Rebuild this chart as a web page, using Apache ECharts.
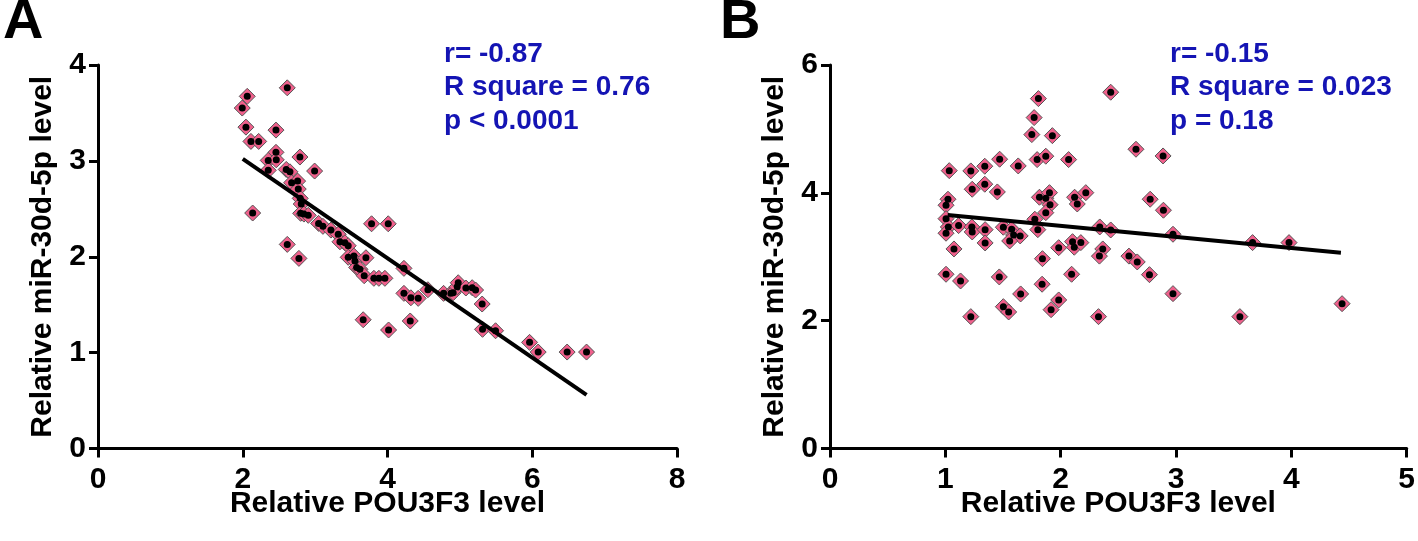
<!DOCTYPE html>
<html>
<head>
<meta charset="utf-8">
<script src="https://cdn.jsdelivr.net/npm/echarts@6/dist/echarts.min.js"></script>
<style>
html,body{margin:0;padding:0;background:#fff;}
#c{width:1418px;height:541px;}
</style>
</head>
<body>
<div id="c"></div>
<script>
// Panel A: Relative POU3F3 level (x) vs Relative miR-30d-5p level (y)
const pointsA = [
[2.615,3.762],[2.062,3.673],[1.993,3.551],[2.044,3.352],[2.459,3.321],[2.113,3.203],[2.220,3.203],
[2.459,3.089],[2.352,3.005],[2.463,3.011],[2.790,3.040],[2.352,2.901],[2.601,2.911],[2.652,2.886],
[2.993,2.894],[2.675,2.772],[2.758,2.789],[2.767,2.706],[2.794,2.609],[2.808,2.550],[2.137,2.456],
[2.800,2.453],[2.845,2.445],[2.905,2.432],[3.048,2.348],[3.108,2.317],[3.218,2.278],[3.319,2.234],
[3.343,2.156],[3.412,2.146],[3.457,2.115],[3.780,2.344],[4.010,2.344],[2.615,2.129],[3.457,1.994],
[3.536,2.007],[3.550,1.955],[3.573,1.889],[3.619,1.869],[3.678,1.802],[3.812,1.775],[3.881,1.775],
[3.964,1.775],[3.702,1.990],[2.776,1.983],[4.227,1.879],[4.227,1.618],[4.323,1.572],[4.424,1.566],
[4.558,1.656],[4.775,1.618],[4.876,1.618],[4.907,1.625],[4.963,1.687],[4.977,1.729],[5.083,1.674],
[5.170,1.677],[5.217,1.653],[5.308,1.507],[3.664,1.343],[4.015,1.236],[4.314,1.330],[5.313,1.243],
[5.493,1.228],[5.963,1.107],[6.082,1.006],[6.482,1.006],[6.750,1.006]
];
const fitA = [[2.0,3.02],[6.75,0.56]];
const statsA = ["r= -0.87", "R square = 0.76", "p < 0.0001"];

// Panel B
const pointsB = [
[2.434,5.574],[1.807,5.474],[1.770,5.177],[1.750,4.911],[1.928,4.895],[2.653,4.682],[2.888,4.577],
[1.034,4.347],[1.221,4.343],[1.342,4.416],[1.471,4.526],[1.632,4.421],[1.796,4.520],[1.871,4.573],
[2.069,4.520],[1.233,4.056],[1.342,4.135],[1.451,4.014],[1.023,3.900],[1.006,3.806],[1.816,3.931],
[1.871,3.915],[1.903,4.003],[1.908,3.815],[1.871,3.690],[2.121,3.931],[2.144,3.826],[2.218,4.003],
[2.776,3.900],[2.891,3.728],[1.006,3.596],[1.026,3.466],[1.006,3.368],[1.115,3.487],[1.230,3.466],
[1.233,3.388],[1.345,3.424],[1.345,3.216],[1.075,3.122],[1.503,3.462],[1.575,3.430],[1.592,3.341],
[1.649,3.326],[1.558,3.247],[1.776,3.587],[1.802,3.424],[2.339,3.466],[2.434,3.419],[1.983,3.142],
[2.103,3.236],[2.118,3.149],[2.175,3.221],[2.365,3.122],[2.336,3.010],[1.842,2.970],[2.592,3.010],
[2.664,2.919],[2.770,2.720],[1.006,2.726],[1.132,2.621],[1.468,2.684],[2.095,2.726],[1.839,2.570],
[1.653,2.418],[1.983,2.324],[1.917,2.172],[1.503,2.219],[1.549,2.136],[1.221,2.063],[2.328,2.063],
[2.974,3.352],[3.664,3.221],[3.980,3.221],[2.974,2.423],[3.554,2.063],[4.440,2.266]
];
const fitB = [[1.02,3.654],[4.43,3.064]];
const statsB = ["r= -0.15", "R square = 0.023", "p = 0.18"];

const xTitle = "Relative POU3F3 level";
const yTitle = "Relative miR-30d-5p level";
const panelLetters = ["A", "B"];

const FONT = "Liberation Sans, Arial, sans-serif";
const axisLine = {show:true, onZero:false, lineStyle:{color:'#000', width:3}};
const axisTick = {show:true, length:9, lineStyle:{color:'#000', width:3}};
const labelStyle = {color:'#000', fontSize:30, fontWeight:'bold', fontFamily:FONT};
const nameStyle = {color:'#000', fontSize:30, fontWeight:'bold', fontFamily:FONT};

function xAxis(idx, max, interval){
  return {type:'value', gridIndex:idx, min:0, max:max, interval:interval,
    axisLine:axisLine, axisTick:axisTick, splitLine:{show:false},
    axisLabel:Object.assign({margin:16}, labelStyle),
    name:xTitle, nameLocation:'middle', nameGap:40, nameMoveOverlap:false, nameTextStyle:nameStyle};
}
function yAxis(idx, max, interval){
  return {type:'value', gridIndex:idx, min:0, max:max, interval:interval,
    axisLine:axisLine, axisTick:axisTick, splitLine:{show:false},
    axisLabel:Object.assign({margin:12}, labelStyle),
    name:yTitle, nameLocation:'middle', nameGap:40, nameMoveOverlap:false, nameTextStyle:nameStyle};
}
function scatterSeries(idx, data){
  return [
    {type:'scatter', xAxisIndex:idx, yAxisIndex:idx, data:data, symbol:'diamond', symbolSize:16,
     itemStyle:{color:'#F0608C', borderColor:'#555', borderWidth:1, opacity:1}, silent:true, z:3},
    {type:'scatter', xAxisIndex:idx, yAxisIndex:idx, data:data, symbol:'circle', symbolSize:7,
     itemStyle:{color:'#000', opacity:1}, silent:true, z:4}
  ];
}
function fitSeries(idx, data){
  return {type:'line', xAxisIndex:idx, yAxisIndex:idx, data:data, showSymbol:false, symbol:'none',
    lineStyle:{color:'#000', width:4}, silent:true, z:5};
}
function statsText(x, lines){
  return lines.map((t,i)=>({type:'text', left:x, top:40 + i*33.5,
    style:{text:t, fill:'#1414B4', font:'bold 28px ' + FONT}}));
}

const chart = echarts.init(document.getElementById('c'), null, {renderer:'canvas'});
chart.setOption({
  animation:false,
  backgroundColor:'#fff',
  grid:[
    {left:98, top:65, width:579, height:383.5},
    {left:830, top:65, width:580, height:383.5}
  ],
  xAxis:[xAxis(0, 8, 2), xAxis(1, 5, 1)],
  yAxis:[yAxis(0, 4, 1), yAxis(1, 6, 2)],
  series:[
    ...scatterSeries(0, pointsA), fitSeries(0, fitA),
    ...scatterSeries(1, pointsB), fitSeries(1, fitB)
  ],
  graphic:[
    {type:'text', left:3, top:-5, style:{text:panelLetters[0], fill:'#000', font:'bold 56px ' + FONT}},
    {type:'text', left:720, top:-5, style:{text:panelLetters[1], fill:'#000', font:'bold 56px ' + FONT}},
    ...statsText(444, statsA),
    ...statsText(1170, statsB)
  ]
});
</script>
</body>
</html>
